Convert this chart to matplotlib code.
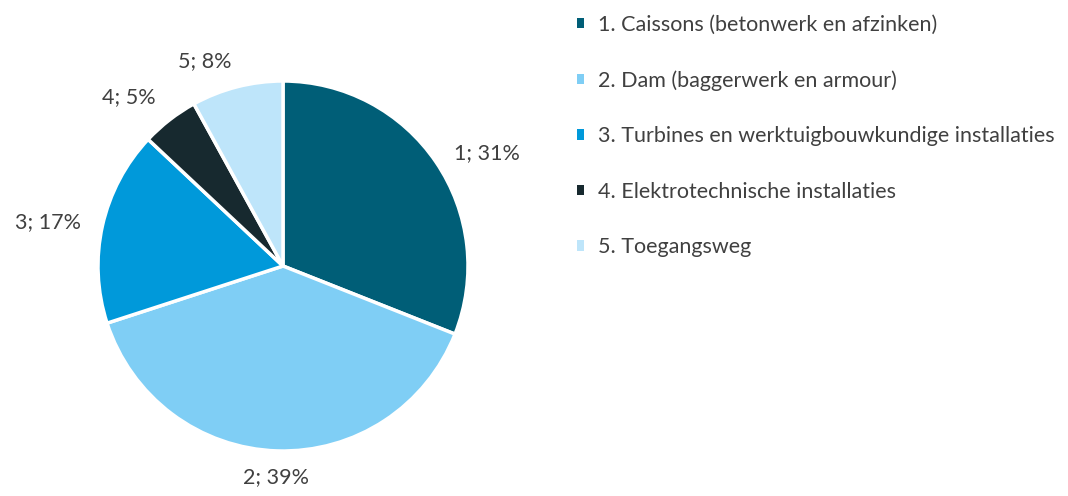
import numpy as np
import matplotlib.pyplot as plt
from matplotlib.patches import Patch

# Share of costs per component (%)
nummers = [1, 2, 3, 4, 5]
aandelen = [31, 39, 17, 5, 8]
namen = [
    '1. Caissons (betonwerk en afzinken)',
    '2. Dam (baggerwerk en armour)',
    '3. Turbines en werktuigbouwkundige installaties',
    '4. Elektrotechnische installaties',
    '5. Toegangsweg',
]
kleuren = ['#005E77', '#7FCEF5', '#0099DA', '#17292F', '#BEE5FA']

plt.rcParams['font.family'] = ['Lato', 'DejaVu Sans']
tekstkleur = '#404040'
fs = 15.5

fig = plt.figure(figsize=(10.68, 4.96), dpi=100)
# pie centre at (283, 266) px, radius ~185 px
ax = fig.add_axes([(283 - 185) / 1068, (496 - 266 - 185) / 496, 370 / 1068, 370 / 496])

wedges, _ = ax.pie(aandelen, colors=kleuren, startangle=90, counterclock=False,
                   wedgeprops=dict(edgecolor='white', linewidth=2.5))
ax.set_xlim(-1, 1)
ax.set_ylim(-1, 1)
ax.set_aspect('equal')

# data labels just outside the edge, aligned like Excel's outside-end labels
for w, n, a in zip(wedges, nummers, aandelen):
    hoek = np.deg2rad((w.theta1 + w.theta2) / 2)
    c, s = np.cos(hoek), np.sin(hoek)
    ha = 'center' if abs(c) < 0.1 else ('left' if c > 0 else 'right')
    va = 'bottom' if s > 0.7 else ('top' if s < -0.7 else 'center')
    ax.text(1.12 * c, 1.09 * s, f'{n}; {a}%', ha=ha, va=va, fontsize=fs,
            color=tekstkleur, clip_on=False)

handles = [Patch(facecolor=c, edgecolor='none') for c in kleuren]
fig.legend(handles, namen, loc='upper left', bbox_to_anchor=(568 / 1068, 1 - 6 / 496),
           frameon=False, fontsize=fs, labelcolor=tekstkleur,
           handlelength=0.35, handleheight=0.35, handletextpad=0.65,
           labelspacing=1.65, borderaxespad=0)

fig.savefig('out.png', dpi=100)
